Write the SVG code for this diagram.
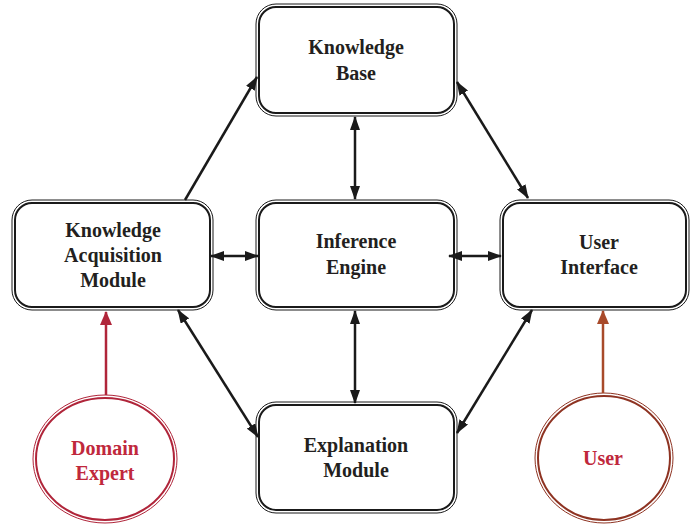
<svg xmlns="http://www.w3.org/2000/svg" width="690" height="524" viewBox="0 0 690 524">
<defs>
<marker id="ah" viewBox="0 0 14 10" refX="13" refY="5" markerWidth="14" markerHeight="10" markerUnits="userSpaceOnUse" orient="auto-start-reverse"><path d="M0,0 L14,5 L0,10 Z" fill="#1a1a1a"/></marker>
<marker id="ahr" viewBox="0 0 14 12" refX="13" refY="6" markerWidth="14" markerHeight="12" markerUnits="userSpaceOnUse" orient="auto"><path d="M0,0 L14,6 L0,12 Z" fill="#b0253a"/></marker>
<marker id="ahb" viewBox="0 0 14 12" refX="13" refY="6" markerWidth="14" markerHeight="12" markerUnits="userSpaceOnUse" orient="auto"><path d="M0,0 L14,6 L0,12 Z" fill="#a84a2a"/></marker>
</defs>
<rect width="690" height="524" fill="#fff"/>
<g id="kb">
<rect x="256" y="4" width="201" height="112" rx="20" fill="#fff" stroke="#1a1a1a" stroke-width="1"/>
<rect x="259" y="7" width="195" height="106" rx="17" fill="none" stroke="#1a1a1a" stroke-width="2"/>
<text x="356" y="54" font-family="Times New Roman, Liberation Serif, serif" font-weight="bold" font-size="20" text-anchor="middle" fill="#231f20">Knowledge</text>
<text x="356" y="80" font-family="Times New Roman, Liberation Serif, serif" font-weight="bold" font-size="20" text-anchor="middle" fill="#231f20">Base</text>
</g>
<g id="kam">
<rect x="12" y="200" width="201" height="110" rx="20" fill="#fff" stroke="#1a1a1a" stroke-width="1"/>
<rect x="15" y="203" width="195" height="104" rx="17" fill="none" stroke="#1a1a1a" stroke-width="2"/>
<text x="113" y="237" font-family="Times New Roman, Liberation Serif, serif" font-weight="bold" font-size="20" text-anchor="middle" fill="#231f20">Knowledge</text>
<text x="113" y="262" font-family="Times New Roman, Liberation Serif, serif" font-weight="bold" font-size="20" text-anchor="middle" fill="#231f20">Acquisition</text>
<text x="113" y="287" font-family="Times New Roman, Liberation Serif, serif" font-weight="bold" font-size="20" text-anchor="middle" fill="#231f20">Module</text>
</g>
<g id="ie">
<rect x="256" y="200" width="201" height="110" rx="20" fill="#fff" stroke="#1a1a1a" stroke-width="1"/>
<rect x="259" y="203" width="195" height="104" rx="17" fill="none" stroke="#1a1a1a" stroke-width="2"/>
<text x="356" y="248" font-family="Times New Roman, Liberation Serif, serif" font-weight="bold" font-size="20" text-anchor="middle" fill="#231f20">Inference</text>
<text x="356" y="274" font-family="Times New Roman, Liberation Serif, serif" font-weight="bold" font-size="20" text-anchor="middle" fill="#231f20">Engine</text>
</g>
<g id="ui">
<rect x="500" y="200" width="189" height="110" rx="20" fill="#fff" stroke="#1a1a1a" stroke-width="1"/>
<rect x="503" y="203" width="183" height="104" rx="17" fill="none" stroke="#1a1a1a" stroke-width="2"/>
<text x="599" y="249" font-family="Times New Roman, Liberation Serif, serif" font-weight="bold" font-size="20" text-anchor="middle" fill="#231f20">User</text>
<text x="599" y="274" font-family="Times New Roman, Liberation Serif, serif" font-weight="bold" font-size="20" text-anchor="middle" fill="#231f20">Interface</text>
</g>
<g id="em">
<rect x="256" y="402" width="201" height="111" rx="20" fill="#fff" stroke="#1a1a1a" stroke-width="1"/>
<rect x="259" y="405" width="195" height="105" rx="17" fill="none" stroke="#1a1a1a" stroke-width="2"/>
<text x="356" y="452" font-family="Times New Roman, Liberation Serif, serif" font-weight="bold" font-size="20" text-anchor="middle" fill="#231f20">Explanation</text>
<text x="356" y="477" font-family="Times New Roman, Liberation Serif, serif" font-weight="bold" font-size="20" text-anchor="middle" fill="#231f20">Module</text>
</g>
<g id="de">
<ellipse cx="105" cy="459" rx="72" ry="64" fill="#fff" stroke="#b0253a" stroke-width="1"/>
<ellipse cx="105" cy="459" rx="69" ry="61" fill="none" stroke="#b0253a" stroke-width="2"/>
<text x="105" y="455" font-family="Times New Roman, Liberation Serif, serif" font-weight="bold" font-size="20" text-anchor="middle" fill="#c0283c">Domain</text>
<text x="105" y="480" font-family="Times New Roman, Liberation Serif, serif" font-weight="bold" font-size="20" text-anchor="middle" fill="#c0283c">Expert</text>
</g>
<g id="user">
<ellipse cx="604" cy="458" rx="69" ry="65" fill="#fff" stroke="#8e3322" stroke-width="1"/>
<ellipse cx="604" cy="458" rx="66" ry="62" fill="none" stroke="#8e3322" stroke-width="2"/>
<text x="603" y="465" font-family="Times New Roman, Liberation Serif, serif" font-weight="bold" font-size="20" text-anchor="middle" fill="#c0283c">User</text>
</g>
<g id="connectors" stroke="#1a1a1a" stroke-width="2.5" fill="none">
<line x1="185" y1="200" x2="257" y2="77" marker-end="url(#ah)"/>
<line x1="355" y1="117" x2="355" y2="199" marker-start="url(#ah)" marker-end="url(#ah)"/>
<line x1="457" y1="82" x2="528" y2="198" marker-start="url(#ah)" marker-end="url(#ah)"/>
<line x1="211" y1="256" x2="258" y2="256" marker-start="url(#ah)" marker-end="url(#ah)"/>
<line x1="449" y1="256" x2="501" y2="256" marker-start="url(#ah)" marker-end="url(#ah)"/>
<line x1="355" y1="311" x2="355" y2="403" marker-start="url(#ah)" marker-end="url(#ah)"/>
<line x1="178" y1="310" x2="258" y2="437" marker-start="url(#ah)" marker-end="url(#ah)"/>
<line x1="532" y1="310" x2="457" y2="433" marker-start="url(#ah)" marker-end="url(#ah)"/>
<line x1="106" y1="395" x2="106" y2="312" stroke="#b0253a" marker-end="url(#ahr)"/>
<line x1="603" y1="393" x2="603" y2="311" stroke="#a84a2a" marker-end="url(#ahb)"/>
</g>
</svg>
